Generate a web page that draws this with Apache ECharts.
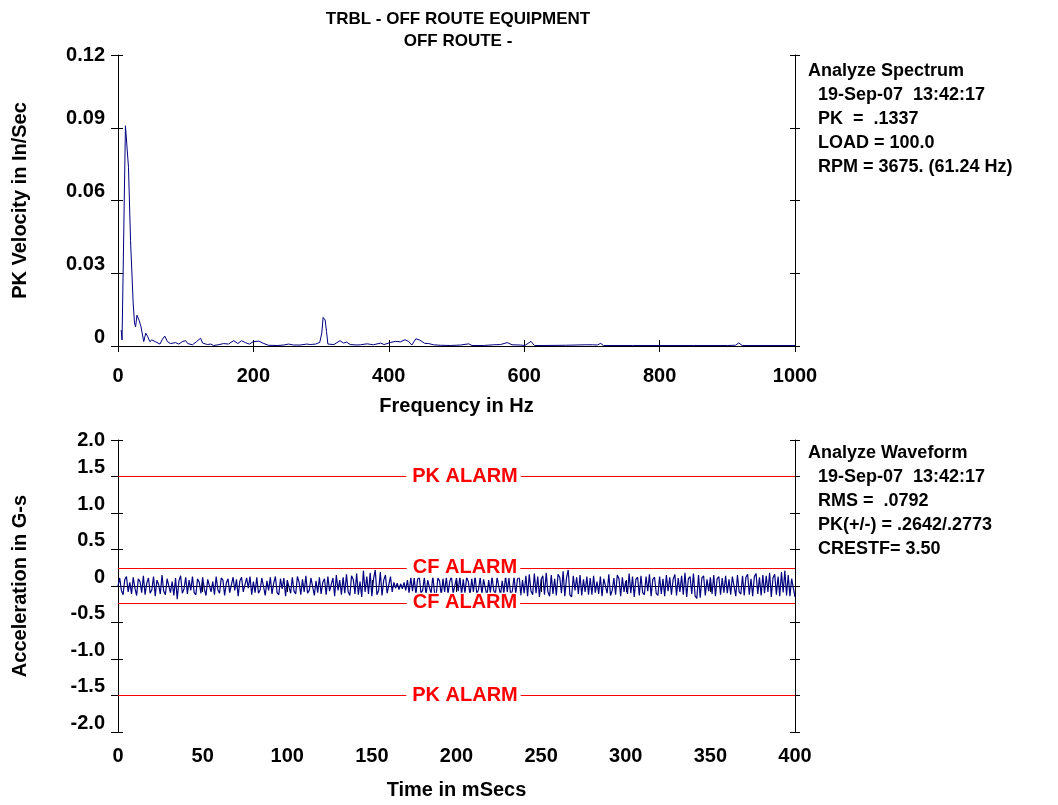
<!DOCTYPE html>
<html>
<head>
<meta charset="utf-8">
<script src="https://cdn.jsdelivr.net/npm/echarts@6/dist/echarts.min.js"></script>
<style>
  html, body { margin: 0; padding: 0; background: #fff; }
  #chart { width: 1058px; height: 805px; }
</style>
</head>
<body>
<div id="chart"></div>
<script>
// ---- Spectrum: frequency (Hz) and peak velocity (in/sec) ----
const specHz = [4.7, 6, 11, 15.5, 18.5, 22.4, 24.4, 26, 28, 31, 34, 38, 41, 44, 47, 50, 55, 62, 65, 69,
  73, 77.5, 85, 90, 95, 100, 103, 110, 116, 122, 125, 132, 137, 141, 148, 156, 163, 171, 177, 182.5,
  188, 194, 200, 208, 214, 222, 235, 245, 252, 259, 269, 279, 284, 292, 298, 301, 303, 306, 308, 310,
  319, 328, 333, 337.5, 343, 353, 358, 368, 377, 388, 393, 403, 410, 417, 424, 429, 434, 440, 446, 453,
  459, 466, 476, 491, 506, 518, 523, 540, 555, 565, 575, 582, 594, 601, 610, 615, 628, 661, 690, 701,
  708, 713, 717, 760, 800, 850, 900, 912, 917, 922, 960, 1000];
const specVel = [.0066, .0025, .0908, .0737, .0436, .0177, .0095, .0079, .0127, .0107, .0079, .0018, .0053, .0038, .0018, .0025, .0018, .0008, .0025, .0041,
  .0018, .001, .0014, .0008, .0018, .0022, .001, .0005, .0018, .0032, .0012, .0006, .0008, .0002, .0005, .001, .0008, .0022, .001, .0022,
  .0014, .0008, .0018, .002, .0012, .0003, .0002, .0004, .0008, .0004, .0004, .0008, .0006, .0008, .0015, .0053, .0118, .0107, .006, .0008,
  .0006, .0022, .0012, .0016, .0006, .0004, .0005, .0009, .0005, .0012, .0006, .0015, .0019, .0017, .0026, .0019, .0004, .003, .0024, .0011,
  .001, .0005, .0003, .0002, .0004, .0009, .0002, .0002, .0005, .0006, .0014, .0005, .0004, .0002, .0019, .0002, .0002, .0003, .0005, .0005,
  .0004, .0011, .0002, .0002, .0002, .0002, .0002, .0003, .0013, .0002, .0002, .0002];

// ---- Waveform: acceleration (G), one sample per millisecond from 0 to 400 ms ----
const sampleMs = 1.0;
const waveG = [
  0, .11, -.06, -.12, .09, .13, -.08, .05, -.11, .12, -.03, -.13, .10, .06, -.09, .14, -.12, .04, .11, -.10, -.05, .13, -.14, .08, .02, -.11, .15, -.07, -.12, .10, .12, -.09, .06, -.13, .11, -.18, .07, .14, -.10, -.04,
  .12, -.11, .08, -.06, .13, -.09, -.12, .10, .05, -.10, .12, -.04, -.13, .09, .11, -.08, .06, -.12, .13, -.05, -.10, .11, .08, -.13, .04, .10, -.09, -.11, .12, -.06, .09, -.14, .07, .12, -.08, -.10, .11, -.03, .13, -.12,
  .06, -.09, .12, -.10, -.05, .11, .09, -.13, .07, -.06, .12, -.11, .04, .13, -.09, -.12, .10, -.04, .11, -.14, .08, .06, -.10, .12, -.07, -.11, .13, .05, -.12, .09, -.08, .14, -.10, -.06, .11, .10, -.13, .07, -.09, .12,
  -.11, .05, .10, -.12, .13, -.07, -.09, .11, -.14, .15, -.06, .08, -.12, .12, -.10, .16, -.08, -.13, .14, .09, -.11, .17, -.12, .06, -.15, .21, -.08, .13, -.11, .18, -.14, .10, .22, -.12, -.06, .19, -.13, .08, .15, -.10,
  -.12, .13, -.08, .05, -.03, .04, -.05, .03, -.04, .05, -.06, .08, -.10, .12, -.07, .11, -.12, .09, .13, -.10, -.06, .12, -.13, .08, .10, -.11, .14, -.09, -.12, .11, .07, -.13, .10, -.08, .12, -.11, .06, .13, -.10, -.12,
  .11, -.07, .13, -.12, .09, -.10, .12, .06, -.13, .10, -.08, .14, -.11, -.05, .12, -.12, .09, .11, -.14, .08, -.09, .13, -.06, -.11, .12, .10, -.13, .07, -.10, .14, -.08, .11, -.12, -.07, .13, -.11, .09, .15, -.13, .08,
  -.10, .14, -.14, .16, -.07, -.12, .17, -.10, .13, -.15, .09, .14, -.12, .18, -.08, -.14, .15, -.11, .10, -.13, .16, .12, -.10, .20, -.14, .11, .22, -.12, -.15, .14, -.06, .12, -.11, .15, -.13, .09, -.08, .13, -.12, .11,
  -.12, .14, -.09, .06, -.11, .13, -.14, .10, .12, -.10, .16, -.13, -.06, .11, -.12, .15, .10, -.14, .12, -.08, .07, -.11, .17, -.10, .13, -.15, .09, .12, -.13, .14, -.09, -.12, .13, -.07, .16, -.14, .09, .12, -.10, -.13,
  .13, -.11, .10, -.14, .15, -.07, .12, -.12, .09, .16, -.13, .11, -.08, .14, -.12, .18, -.15, .10, .13, -.11, .17, -.14, -.17, .15, -.16, .11, .14, -.13, .09, -.07, .12, -.11, .15, -.14, .10, .13, -.12, .11, -.09, .14,
  -.10, .09, -.12, .13, .11, -.14, .15, -.08, -.11, .14, -.13, .12, .16, -.12, .10, -.14, .13, .17, -.11, .12, -.13, .15, -.10, .14, -.08, .18, -.15, .11, .16, -.12, .13, -.14, .19, -.09, .21, -.13, .15, -.14, .10, .12,
  -.15
];

// ---- Alarm levels on the waveform (G) ----
const alarmLevels = [1.5, 0.25, -0.225, -1.5];
const alarmNames = ['PK ALARM', 'CF ALARM', 'CF ALARM', 'PK ALARM'];

// ---- Axis tick settings ----
const freqTicks = { min: 0, max: 1000, interval: 200 };
const velTicks = { min: 0, max: 0.12, interval: 0.03 };
const timeTicks = { min: 0, max: 400, interval: 50 };
const accTicks = { min: -2, max: 2, interval: 0.5 };

// ---- Annotation text ----
const titleLines = ['TRBL - OFF ROUTE EQUIPMENT', 'OFF ROUTE -'];
const spectrumInfo = ['Analyze Spectrum', '  19-Sep-07  13:42:17', '  PK  =  .1337', '  LOAD = 100.0', '  RPM = 3675. (61.24 Hz)'];
const waveformInfo = ['Analyze Waveform', '  19-Sep-07  13:42:17', '  RMS =  .0792', '  PK(+/-) = .2642/.2773', '  CRESTF= 3.50'];

const FONT = '"Liberation Sans", Arial, Helvetica, sans-serif';
const INK = '#000';
const LINE_BLUE = '#000080';
const AXIS_FONT = 20;

const specData = specHz.map((f, i) => [f, specVel[i]]);
const waveData = waveG.map((g, i) => [i * sampleMs, g]);

function yLabelFormatter(decimals, maxVal) {
  return function (v) {
    const s = v === 0 ? '0' : v.toFixed(decimals);
    return Math.abs(v - maxVal) < 1e-9 ? '{m|' + s + '}' : '{a|' + s + '}';
  };
}
const yLabelRich = {
  a: { fontFamily: FONT, fontWeight: 'bold', fontSize: AXIS_FONT, color: INK, padding: [0, 0, 18, 0] },
  m: { fontFamily: FONT, fontWeight: 'bold', fontSize: AXIS_FONT, color: INK }
};

function xAxisMain(grid, ticks, name, labelMargin, nameGap) {
  return {
    type: 'value', gridIndex: grid, position: 'bottom',
    min: ticks.min, max: ticks.max, interval: ticks.interval,
    axisLine: { show: true, lineStyle: { color: INK, width: 1 } },
    axisTick: { show: true, inside: true, length: 6, lineStyle: { color: INK } },
    axisLabel: { show: true, margin: labelMargin, formatter: v => String(v),
      fontFamily: FONT, fontWeight: 'bold', fontSize: AXIS_FONT, color: INK },
    splitLine: { show: false },
    name: name, nameLocation: 'middle', nameGap: nameGap,
    nameTextStyle: { fontFamily: FONT, fontWeight: 'bold', fontSize: AXIS_FONT, color: INK }
  };
}
function xAxisTop(grid, ticks) {
  return {
    type: 'value', gridIndex: grid, position: 'top',
    min: ticks.min, max: ticks.max, interval: ticks.interval,
    axisLine: { show: true, lineStyle: { color: INK, width: 1 } },
    axisTick: { show: true, inside: true, length: 6, lineStyle: { color: INK } },
    axisLabel: { show: false }, splitLine: { show: false }
  };
}
function yAxisSet(grid, ticks, decimals, name, nameGap) {
  const base = { type: 'value', gridIndex: grid, min: ticks.min, max: ticks.max, interval: ticks.interval, splitLine: { show: false } };
  return [
    Object.assign({}, base, {
      position: 'left',
      axisLine: { show: true, lineStyle: { color: INK, width: 1 } },
      axisTick: { show: true, inside: false, length: 7, lineStyle: { color: INK } },
      axisLabel: { show: true, margin: 13, formatter: yLabelFormatter(decimals, ticks.max), rich: yLabelRich },
      name: name, nameLocation: 'middle', nameGap: nameGap, nameRotate: 90,
      nameTextStyle: { fontFamily: FONT, fontWeight: 'bold', fontSize: AXIS_FONT, color: INK }
    }),
    Object.assign({}, base, {
      position: 'left',
      axisLine: { show: false },
      axisTick: { show: true, inside: true, length: 5, lineStyle: { color: INK } },
      axisLabel: { show: false }
    }),
    Object.assign({}, base, {
      position: 'right',
      axisLine: { show: true, lineStyle: { color: INK, width: 1 } },
      axisTick: { show: true, inside: false, length: 5, lineStyle: { color: INK } },
      axisLabel: { show: false }
    }),
    Object.assign({}, base, {
      position: 'right',
      axisLine: { show: false },
      axisTick: { show: true, inside: true, length: 5, lineStyle: { color: INK } },
      axisLabel: { show: false }
    })
  ];
}

function textBlock(lines, x, y) {
  return {
    type: 'text', x: x, y: y, silent: true,
    style: {
      text: lines.join('\n'), fill: INK,
      font: 'bold 18px ' + FONT, lineHeight: 24,
      textAlign: 'left', textVerticalAlign: 'top'
    }
  };
}

const chart = echarts.init(document.getElementById('chart'), null, { renderer: 'canvas' });

chart.setOption({
  backgroundColor: '#fff',
  animation: false,
  grid: [
    { left: 118, width: 677, top: 55, height: 291, containLabel: false },
    { left: 118, width: 677, top: 440, height: 292, containLabel: false }
  ],
  xAxis: [
    xAxisMain(0, freqTicks, 'Frequency in Hz', 20, 50),
    xAxisTop(0, freqTicks),
    xAxisMain(1, timeTicks, 'Time in mSecs', 14, 48),
    xAxisTop(1, timeTicks)
  ],
  yAxis: [].concat(
    yAxisSet(0, velTicks, 2, 'PK Velocity in In/Sec', 88),
    yAxisSet(1, accTicks, 1, 'Acceleration in G-s', 88)
  ),
  series: [
    {
      name: 'Spectrum', type: 'line', xAxisIndex: 0, yAxisIndex: 0,
      data: specData, showSymbol: false, symbol: 'none', smooth: false,
      lineStyle: { color: LINE_BLUE, width: 1 }, z: 2
    },
    {
      name: 'Waveform', type: 'line', xAxisIndex: 2, yAxisIndex: 4,
      data: waveData, showSymbol: false, symbol: 'none', smooth: false,
      lineStyle: { color: LINE_BLUE, width: 1.2 }, z: 2
    },
    {
      name: 'Alarms', type: 'line', xAxisIndex: 2, yAxisIndex: 4,
      data: [], z: 5,
      markLine: {
        silent: true, symbol: ['none', 'none'], animation: false,
        lineStyle: { color: '#ff0000', width: 1, type: 'solid' },
        data: alarmLevels.map((lvl, i) => ({
          yAxis: lvl,
          label: {
            show: true, position: 'middle', distance: -10,
            formatter: '{g| }{t|' + alarmNames[i] + '}',
            rich: {
              g: { width: 14 },
              t: {
                fontFamily: FONT, fontWeight: 'bold', fontSize: 20, color: '#ff0000',
                backgroundColor: '#fff', padding: [0, 3, 0, 6]
              }
            }
          }
        }))
      }
    }
  ],
  graphic: [
    { type: 'text', x: 458, y: 8, silent: true,
      style: { text: titleLines.join('\n'), fill: INK, font: 'bold 17px ' + FONT, lineHeight: 22, textAlign: 'center', textVerticalAlign: 'top' } },
    textBlock(spectrumInfo, 808, 59),
    textBlock(waveformInfo, 808, 441)
  ]
});
</script>
</body>
</html>
